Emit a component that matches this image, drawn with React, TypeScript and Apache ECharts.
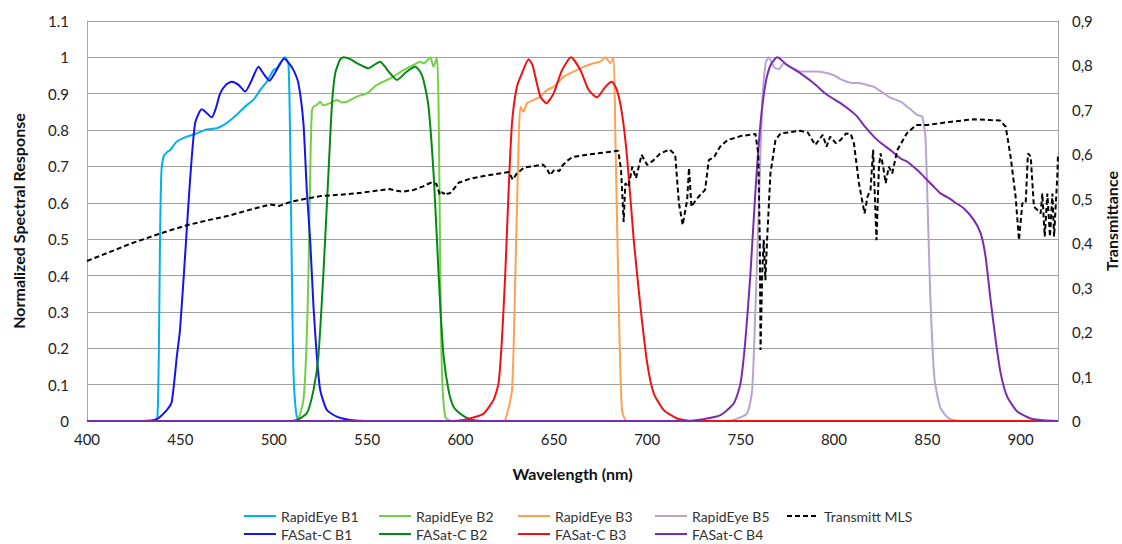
import React, { useEffect, useRef } from "react";
import * as echarts from "echarts";

const xTicks = { min: 400, max: 920, interval: 50 };

const rapidEyeB1: [number, number][] = [
  [400, 0], [436, 0], [437.7, 0.01], [438.5, 0.2], [439.1, 0.5], [439.8, 0.68], [441, 0.727], [443, 0.74],
  [444.5, 0.745], [448, 0.768], [453.4, 0.782], [458.8, 0.791], [464.1, 0.802], [469.5, 0.805], [474.9, 0.82],
  [480.2, 0.842], [485.6, 0.869], [489.1, 0.883], [492.7, 0.91], [496.3, 0.933], [499.8, 0.965], [501.7, 0.97],
  [503.5, 0.985], [506.1, 1.0], [507.9, 0.98], [508.8, 0.77], [509.7, 0.41], [510.6, 0.13], [512.4, 0.01],
  [515, 0], [920, 0],
];

const rapidEyeB2: [number, number][] = [
  [400, 0], [512, 0], [513.2, 0.005], [515.9, 0.058], [517.5, 0.2], [518.6, 0.406], [519.6, 0.7], [520.4, 0.85],
  [521.3, 0.864], [523.1, 0.869], [524.9, 0.878], [526.5, 0.868], [530.2, 0.874], [533.8, 0.883], [536.5, 0.876],
  [539.1, 0.878], [544.5, 0.892], [549.8, 0.901], [555.2, 0.924], [562.4, 0.942], [569.5, 0.965], [574.9, 0.979],
  [578.5, 0.988], [580.3, 0.983], [582, 0.99], [583.8, 1.0], [585.6, 0.974], [587.4, 1.0], [588.3, 0.86],
  [589.2, 0.406], [590.1, 0.131], [591.9, 0.01], [595, 0], [920, 0],
];

const rapidEyeB3: [number, number][] = [
  [400, 0], [622, 0], [624, 0.003], [627.6, 0.085], [629.4, 0.406], [631.2, 0.773], [632.1, 0.864],
  [633.8, 0.851], [635.6, 0.874], [639.2, 0.883], [642.8, 0.892], [646.3, 0.91], [649.9, 0.919], [655.3, 0.947],
  [660.6, 0.961], [666, 0.974], [671.3, 0.984], [674.9, 0.988], [677.6, 1.0], [680.3, 0.984], [682, 1.0],
  [683, 0.773], [684.8, 0.314], [686.5, 0.03], [689.2, 0], [920, 0],
];

const rapidEyeB5: [number, number][] = [
  [400, 0], [740, 0], [746.4, 0.003], [753.5, 0.021], [756.2, 0.085], [758, 0.314], [759.8, 0.589],
  [761.5, 0.864], [763.4, 0.984], [765.1, 1.0], [767.8, 0.974], [770.5, 0.967], [773.1, 0.984], [776, 0.975],
  [782.1, 0.961], [791, 0.961], [800, 0.951], [803.5, 0.94], [808.9, 0.93], [814.3, 0.929], [817.8, 0.924],
  [821.4, 0.919], [826.7, 0.901], [830, 0.89], [835.7, 0.878], [839.3, 0.864], [844.6, 0.842], [847.3, 0.837],
  [849, 0.78], [850.2, 0.589], [851.5, 0.36], [852.8, 0.2], [854, 0.11], [857.1, 0.035], [862, 0.006],
  [870, 0], [920, 0],
];

const fasatB1: [number, number][] = [
  [400, 0], [430, 0], [437.3, 0.005], [442.7, 0.03], [445.4, 0.053], [448.1, 0.177], [449.8, 0.25],
  [452.5, 0.452], [455.2, 0.663], [457.9, 0.819], [461.4, 0.857], [463.5, 0.85], [466.8, 0.835], [469, 0.86],
  [471.3, 0.901], [474.5, 0.925], [477.5, 0.933], [481, 0.925], [484.7, 0.906], [488, 0.935], [491.8, 0.974],
  [494.5, 0.955], [497.7, 0.936], [501.5, 0.965], [505.6, 0.997], [508, 0.985], [510.6, 0.965], [513.2, 0.929],
  [515.9, 0.819], [517.7, 0.635], [519.5, 0.498], [521.3, 0.314], [523.1, 0.177], [524.9, 0.085],
  [528.5, 0.03], [533.8, 0.012], [540.9, 0.003], [550, 0], [920, 0],
];

const fasatB2: [number, number][] = [
  [400, 0], [508, 0], [512.3, 0.003], [517.7, 0.021], [521.3, 0.085], [523.9, 0.177], [526.6, 0.406],
  [529.3, 0.681], [531.1, 0.864], [532.9, 0.956], [535.6, 0.995], [537.4, 1.0], [541, 0.995], [544.5, 0.984],
  [548, 0.975], [550.7, 0.97], [554, 0.98], [557, 0.988], [559.5, 0.975], [561.5, 0.961], [566, 0.938],
  [571.3, 0.961], [575.8, 0.974], [578.5, 0.96], [580.2, 0.938], [582.9, 0.864], [585.6, 0.681], [587.4, 0.498],
  [589.2, 0.314], [591, 0.177], [593.6, 0.085], [596.3, 0.039], [599.9, 0.02], [605, 0.005], [612, 0], [920, 0],
];

const fasatB3: [number, number][] = [
  [400, 0], [595, 0], [601.7, 0.003], [607, 0.01], [612.4, 0.02], [617.7, 0.058], [620.4, 0.104],
  [622.2, 0.223], [624, 0.406], [625.8, 0.635], [627.6, 0.819], [630.2, 0.919], [632.9, 0.956], [636.5, 0.995],
  [638.5, 0.98], [640.1, 0.947], [642.8, 0.892], [646, 0.874], [649.9, 0.901], [654.4, 0.965], [659.2, 1.0],
  [664.2, 0.965], [668.7, 0.91], [673.2, 0.89], [677.6, 0.919], [681.1, 0.933], [683.8, 0.91], [686.5, 0.846],
  [689.2, 0.727], [692.8, 0.498], [696.4, 0.314], [700, 0.159], [703.5, 0.076], [708.9, 0.03], [716, 0.007],
  [725, 0], [920, 0],
];

const fasatB4: [number, number][] = [
  [400, 0], [720, 0], [730, 0.005], [739.2, 0.016], [746.4, 0.049], [750, 0.104], [752.6, 0.223],
  [755.3, 0.406], [758, 0.635], [760.7, 0.819], [763.4, 0.929], [766.1, 0.979], [769.6, 1.0], [775, 0.979],
  [782.1, 0.956], [789.2, 0.929], [796.3, 0.897], [803.5, 0.874], [808.5, 0.855], [812.5, 0.837], [816.5, 0.81],
  [821.4, 0.782], [825, 0.765], [830.3, 0.745], [835.7, 0.722], [839.3, 0.713], [844.6, 0.69], [848.2, 0.672],
  [853.5, 0.644], [857.1, 0.626], [862.5, 0.61], [864.2, 0.603], [869.5, 0.585], [874.9, 0.553], [878.6, 0.516],
  [881.2, 0.452], [883.9, 0.333], [886.6, 0.223], [889.3, 0.131], [892.8, 0.067], [898.2, 0.026],
  [905.4, 0.007], [912, 0.002], [920, 0],
];

const transmittMLS: [number, number][] = [
  [400, 0.36], [412, 0.38], [424, 0.4], [440, 0.423], [453, 0.44], [465, 0.452], [476, 0.462], [487, 0.475],
  [498, 0.487], [503, 0.484], [509, 0.493], [517, 0.5], [525, 0.506], [535, 0.509], [544, 0.512], [553, 0.517],
  [562, 0.522], [566, 0.518], [569, 0.516], [572, 0.518], [575, 0.52], [580, 0.528], [584, 0.536], [587, 0.534],
  [589, 0.509], [590, 0.515], [591, 0.511], [592, 0.516], [593, 0.511], [594.5, 0.513], [597, 0.525],
  [599, 0.536], [605, 0.545], [611, 0.55], [618, 0.555], [626, 0.56], [628, 0.543], [630, 0.556], [634, 0.57],
  [640, 0.574], [644, 0.577], [646, 0.57], [648, 0.553], [650, 0.564], [651, 0.566], [653, 0.562], [654, 0.572],
  [657, 0.585], [660, 0.594], [666, 0.598], [673, 0.602], [679, 0.605], [684.5, 0.608], [686, 0.565],
  [687.4, 0.448], [688.3, 0.535], [690, 0.527], [692, 0.572], [694, 0.546], [697, 0.599], [700, 0.576],
  [703.5, 0.587], [707, 0.602], [712, 0.611], [715, 0.599], [717, 0.49], [719, 0.441], [721.4, 0.497],
  [722.4, 0.569], [723.7, 0.482], [726, 0.497], [728.5, 0.509], [731, 0.52], [733, 0.587], [736, 0.595],
  [739, 0.617], [743, 0.632], [750, 0.641], [758, 0.646], [759.5, 0.6], [760.3, 0.407], [760.7, 0.16],
  [761.6, 0.333], [762.4, 0.407], [763.3, 0.317], [764.2, 0.407], [766, 0.557], [768.7, 0.632], [771.4, 0.647],
  [782, 0.653], [786, 0.649], [790, 0.621], [794, 0.644], [796, 0.617], [798, 0.64], [801, 0.625], [803.5, 0.632],
  [806.5, 0.647], [809, 0.646], [810.7, 0.625], [813.4, 0.535], [816.4, 0.467], [818, 0.505], [819.6, 0.52],
  [821, 0.61], [822.8, 0.407], [824.1, 0.572], [825, 0.602], [826.4, 0.572], [827.7, 0.535], [829.4, 0.572],
  [831.2, 0.557], [834, 0.61], [839, 0.647], [844, 0.666], [850, 0.666], [862, 0.673], [875, 0.679],
  [884, 0.677], [889, 0.676], [892, 0.662], [894.6, 0.595], [897.3, 0.505], [899.1, 0.407], [900.9, 0.49],
  [902.7, 0.49], [903.9, 0.602], [905.4, 0.595], [907.1, 0.482], [908.9, 0.475], [910.7, 0.467], [911.6, 0.512],
  [912.9, 0.415], [914.3, 0.512], [915.7, 0.415], [917, 0.512], [917.9, 0.415], [919.7, 0.557], [920, 0.602],
];

const legendColumns: string[][] = [
  ["RapidEye B1", "FASat-C B1"],
  ["RapidEye B2", "FASat-C B2"],
  ["RapidEye B3", "FASat-C B3"],
  ["RapidEye B5", "FASat-C B4"],
  ["Transmitt MLS"],
];
const legendLefts = [243, 378, 517, 654, 786];

const FONT = "Lato, 'Open Sans', sans-serif";

export default function App() {
  const ref = useRef<HTMLDivElement>(null);
  useEffect(() => {
    if (!ref.current) return;
    const chart = echarts.init(ref.current, undefined, { renderer: "svg" });
    const line = (name: string, data: [number, number][], color: string, z: number) => ({
      name,
      type: "line",
      data,
      symbol: "none",
      smooth: 0.2,
      z,
      lineStyle: { color, width: 2 },
      itemStyle: { color },
    });
    chart.setOption({
      animation: false,
      backgroundColor: "#ffffff",
      textStyle: { fontFamily: FONT },
      grid: { left: 87, right: 64, top: 21, bottom: 123, containLabel: false, outerBoundsMode: "none" },
      legend: legendColumns.map((col, i) => ({
        data: col,
        orient: "vertical",
        left: legendLefts[i],
        top: 509,
        itemWidth: 32,
        itemHeight: 16,
        itemGap: 4,
        padding: 0,
        selectedMode: false,
        itemStyle: { opacity: 0, borderWidth: 0 },
        textStyle: { fontFamily: FONT, fontSize: 14, color: "#333" },
      })),
      xAxis: {
        type: "value",
        min: xTicks.min,
        max: xTicks.max,
        interval: xTicks.interval,
        name: "Wavelength (nm)",
        nameLocation: "middle",
        nameGap: 44,
        nameTextStyle: { fontFamily: FONT, fontSize: 16, fontWeight: "bold", color: "#111" },
        axisLine: { show: true, lineStyle: { color: "#A6A6A6", width: 1 } },
        axisTick: { show: false },
        splitLine: { show: false },
        axisLabel: { showMaxLabel: false, margin: 10, fontFamily: FONT, fontSize: 15, color: "#222" },
      },
      yAxis: [
        {
          type: "value",
          min: 0,
          max: 1.1,
          interval: 0.1,
          name: "Normalized Spectral Response",
          nameLocation: "middle",
          nameGap: 61,
          nameTextStyle: { fontFamily: FONT, fontSize: 16, fontWeight: "bold", color: "#111" },
          axisLine: { show: true, lineStyle: { color: "#A6A6A6", width: 1 } },
          axisTick: { show: false },
          splitLine: { show: true, lineStyle: { color: "#A0A0A0", width: 1 } },
          axisLabel: { margin: 18, fontFamily: FONT, fontSize: 15, color: "#222" },
        },
        {
          type: "value",
          min: 0,
          max: 0.9,
          interval: 0.1,
          position: "right",
          name: "Transmittance",
          nameLocation: "middle",
          nameRotate: 90,
          nameGap: 45,
          nameTextStyle: { fontFamily: FONT, fontSize: 16, fontWeight: "bold", color: "#111" },
          axisLine: { show: true, lineStyle: { color: "#A6A6A6", width: 1 } },
          axisTick: { show: false },
          splitLine: { show: false },
          axisLabel: {
            margin: 14,
            fontFamily: FONT,
            fontSize: 15,
            color: "#222",
            formatter: (v: number) => (v === 0 ? "0" : v.toFixed(1).replace(".", ",")),
          },
        },
      ],
      series: [
        line("RapidEye B1", rapidEyeB1, "#00B0F0", 2),
        line("RapidEye B2", rapidEyeB2, "#6FD046", 2),
        line("RapidEye B3", rapidEyeB3, "#FFA052", 2),
        line("RapidEye B5", rapidEyeB5, "#B8A3D2", 2),
        line("FASat-C B1", fasatB1, "#1414F0", 3),
        line("FASat-C B2", fasatB2, "#038A12", 3),
        line("FASat-C B3", fasatB3, "#F01212", 3),
        line("FASat-C B4", fasatB4, "#7A2CB0", 3),
        {
          name: "Transmitt MLS",
          type: "line",
          yAxisIndex: 1,
          data: transmittMLS,
          symbol: "none",
          z: 4,
          lineStyle: { color: "#000", width: 2, type: [5, 3] },
          itemStyle: { color: "#000" },
        },
      ],
    });
    return () => chart.dispose();
  }, []);
  return (
    <div
      ref={ref}
      style={{ position: "fixed", left: 0, top: 0, width: 1122, height: 544, background: "#fff" }}
    />
  );
}
